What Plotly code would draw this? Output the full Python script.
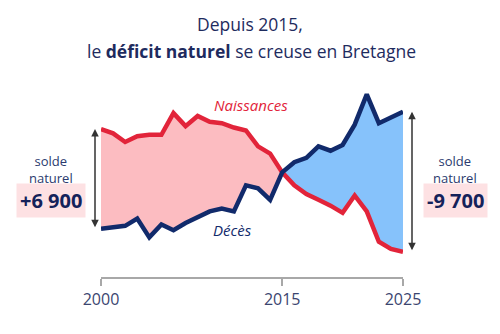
import plotly.graph_objects as go

years = list(range(2000, 2026))
naissances = [36000, 35700, 35100, 35500, 35600, 35600, 37100, 36200, 36900, 36500,
              36400, 36100, 35900, 34800, 34300, 33000, 32100, 31500, 31100, 30700,
              30200, 31400, 30300, 28200, 27700, 27500]
deces = [29100, 29200, 29300, 29800, 28500, 29400, 29000, 29500, 29900, 30300,
         30500, 30300, 32100, 31900, 31100, 33000, 33700, 34000, 34800, 34500,
         34900, 36300, 38400, 36400, 36800, 37200]
tick_years = [2000, 2015, 2025]
solde_labels = ["+6 900", "-9 700"]

RED = "#E2243A"
NAVY = "#112A6B"
PINK_FILL = "#FCBCC1"
BLUE_FILL = "#86C2FB"
TXT = "#1E2B5E"

W, H = 500, 334
L, R, T, B = 101, 97, 85, 57
ymin, ymax = 25760, 39045

def px(X):
    return (X - L) / (W - L - R)

def py(Y):
    return (H - B - Y) / (H - T - B)

split = years.index(2015)

fig = go.Figure()
# pink fill (births > deaths)
fig.add_trace(go.Scatter(x=years[:split + 1], y=naissances[:split + 1], mode="lines",
                         line=dict(width=0), showlegend=False, hoverinfo="skip"))
fig.add_trace(go.Scatter(x=years[:split + 1], y=deces[:split + 1], mode="lines",
                         line=dict(width=0), fill="tonexty", fillcolor=PINK_FILL,
                         showlegend=False, hoverinfo="skip"))
# blue fill (deaths > births)
fig.add_trace(go.Scatter(x=years[split:], y=naissances[split:], mode="lines",
                         line=dict(width=0), showlegend=False, hoverinfo="skip"))
fig.add_trace(go.Scatter(x=years[split:], y=deces[split:], mode="lines",
                         line=dict(width=0), fill="tonexty", fillcolor=BLUE_FILL,
                         showlegend=False, hoverinfo="skip"))
# lines
fig.add_trace(go.Scatter(x=years, y=naissances, mode="lines",
                         line=dict(color=RED, width=4.5), showlegend=False))
fig.add_trace(go.Scatter(x=years, y=deces, mode="lines",
                         line=dict(color=NAVY, width=4.5), showlegend=False))

ann = []
# title
ann.append(dict(text="Depuis 2015,", x=px(250), xref="paper", y=py(23.5), yref="paper",
                xanchor="center", yanchor="middle", showarrow=False,
                font=dict(size=17.5, color=TXT, family="Open Sans")))
ann.append(dict(text="le <b>déficit naturel</b> se creuse en Bretagne", x=px(251), xref="paper",
                y=py(51), yref="paper", xanchor="center", yanchor="middle", showarrow=False,
                font=dict(size=17.5, color=TXT, family="Open Sans")))
# series labels
ann.append(dict(text="<i>Naissances</i>", x=px(251), xref="paper", y=py(105), yref="paper",
                showarrow=False, xanchor="center", yanchor="middle",
                font=dict(size=15, color=RED, family="Open Sans")))
ann.append(dict(text="<i>Décès</i>", x=px(232), xref="paper", y=py(230), yref="paper",
                showarrow=False, xanchor="center", yanchor="middle",
                font=dict(size=15, color=NAVY, family="Open Sans")))
# solde labels
for X, lab in [(51, solde_labels[0]), (455, solde_labels[1])]:
    ann.append(dict(text="solde<br>naturel", x=px(X), xref="paper", y=py(169.5), yref="paper",
                    showarrow=False, xanchor="center", yanchor="middle",
                    font=dict(size=13, color="#2B3A6E", family="Open Sans")))
    ann.append(dict(text="<b>" + lab + "</b>", x=px(X), xref="paper", y=py(200), yref="paper",
                    showarrow=False, xanchor="center", yanchor="middle",
                    bgcolor="#FDE1E3", borderpad=3,
                    font=dict(size=20, color="#14225A", family="Open Sans")))
# double arrows
for X, i in [(95, 0), (412, -1)]:
    top = max(naissances[i], deces[i])
    bot = min(naissances[i], deces[i])
    ann.append(dict(x=px(X), y=top, xref="paper", yref="y", ax=0, ay=bot,
                    axref="pixel", ayref="y",
                    text="", showarrow=True, arrowside="end+start", arrowhead=2,
                    startarrowhead=2, arrowsize=1, startarrowsize=1, arrowwidth=1.5,
                    arrowcolor="#333333"))

fig.update_layout(
    width=W, height=H,
    margin=dict(l=L, r=R, t=T, b=B),
    paper_bgcolor="white", plot_bgcolor="white",
    annotations=ann,
    xaxis=dict(range=[2000, 2025], tickvals=tick_years, ticktext=[str(t) for t in tick_years],
               showgrid=False, zeroline=False, showline=True, linecolor="#A8A8A8",
               linewidth=1.5, ticks="outside", ticklen=7, tickwidth=1.5, tickcolor="#A8A8A8",
               tickfont=dict(size=16, color="#3B4570", family="Open Sans")),
    yaxis=dict(range=[ymin, ymax], visible=False),
    hovermode=False,
)

fig.write_html("out.html")
